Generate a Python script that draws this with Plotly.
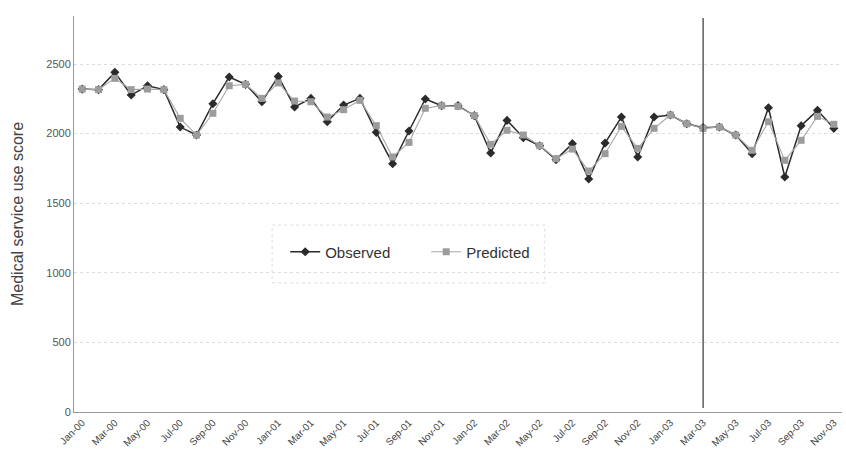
import plotly.graph_objects as go

# Monthly periods, Jan 2000 through Nov 2003
months = ["Jan", "Feb", "Mar", "Apr", "May", "Jun", "Jul", "Aug", "Sep", "Oct", "Nov", "Dec"]
periods = [f"{m}-{y:02d}" for y in range(0, 4) for m in months][:47]

observed = [2320, 2316, 2440, 2277, 2344, 2316, 2047, 1990, 2215, 2407,
            2354, 2229, 2411, 2191, 2253, 2086, 2205, 2253, 2009, 1784,
            2019, 2249, 2201, 2201, 2129, 1861, 2095, 1971, 1913, 1813,
            1928, 1674, 1932, 2119, 1832, 2119, 2134, 2071, 2043, 2047,
            1990, 1856, 2186, 1688, 2057, 2167, 2038]

predicted = [2320, 2316, 2397, 2316, 2320, 2316, 2110, 1990, 2146, 2344,
             2354, 2253, 2364, 2234, 2229, 2119, 2172, 2239, 2057, 1832,
             1937, 2182, 2201, 2196, 2129, 1923, 2024, 1990, 1913, 1820,
             1889, 1731, 1856, 2052, 1894, 2038, 2134, 2071, 2038, 2047,
             1990, 1880, 2086, 1808, 1952, 2124, 2067]

# Tick labels every second month
tick_labels = periods[::2]
cutoff = "Mar-03"

fig = go.Figure()
fig.add_trace(go.Scatter(
    x=periods, y=observed, name="Observed", mode="lines+markers",
    line=dict(color="#2b2b2b", width=1.5),
    marker=dict(symbol="diamond", size=7, color="#2b2b2b"),
))
fig.add_trace(go.Scatter(
    x=periods, y=predicted, name="Predicted", mode="lines+markers",
    line=dict(color="#a8a8a8", width=1.1),
    marker=dict(symbol="square", size=7, color="#9c9c9c"),
))

# Forecast cutoff
fig.add_shape(type="line", xref="x", yref="paper",
              x0=cutoff, x1=cutoff, y0=0.01, y1=0.995,
              line=dict(color="#333333", width=1.2))

# Legend frame
fig.add_shape(type="rect", xref="paper", yref="paper",
              x0=0.258, x1=0.613, y0=0.326, y1=0.472,
              line=dict(color="#dddddd", width=1, dash="dot"),
              fillcolor="white", layer="below")

fig.update_layout(
    width=846, height=456,
    margin=dict(l=74, r=4, t=16, b=44),
    paper_bgcolor="white", plot_bgcolor="white",
    font=dict(family="Liberation Sans, Arial, sans-serif", color="#555555"),
    showlegend=True,
    legend=dict(
        orientation="h", x=0.275, y=0.404, xanchor="left", yanchor="middle",
        font=dict(size=15, color="#333333"),
        borderwidth=0, bgcolor="rgba(0,0,0,0)",
        itemwidth=30, entrywidth=96, entrywidthmode="pixels",
    ),
    xaxis=dict(
        type="category", categoryorder="array", categoryarray=periods,
        range=[-0.5, len(periods) - 0.5],
        tickmode="array", tickvals=tick_labels, ticktext=tick_labels,
        tickangle=-45, tickfont=dict(size=10, color="#444444"),
        showgrid=False, showline=True, linecolor="#999999", linewidth=1,
        ticks="", automargin=False, zeroline=False,
    ),
    yaxis=dict(
        range=[0, 2845], tickvals=[0, 500, 1000, 1500, 2000, 2500],
        tickfont=dict(size=11, color="#555555"),
        showgrid=True, gridcolor="#dcdcdc", griddash="dot", gridwidth=1,
        showline=True, linecolor="#999999", linewidth=1,
        zeroline=False, ticks="", automargin=False,
        title=dict(text="Medical service use score",
                   font=dict(size=16, color="#444444"), standoff=18),
    ),
)

fig.write_html("out.html")
